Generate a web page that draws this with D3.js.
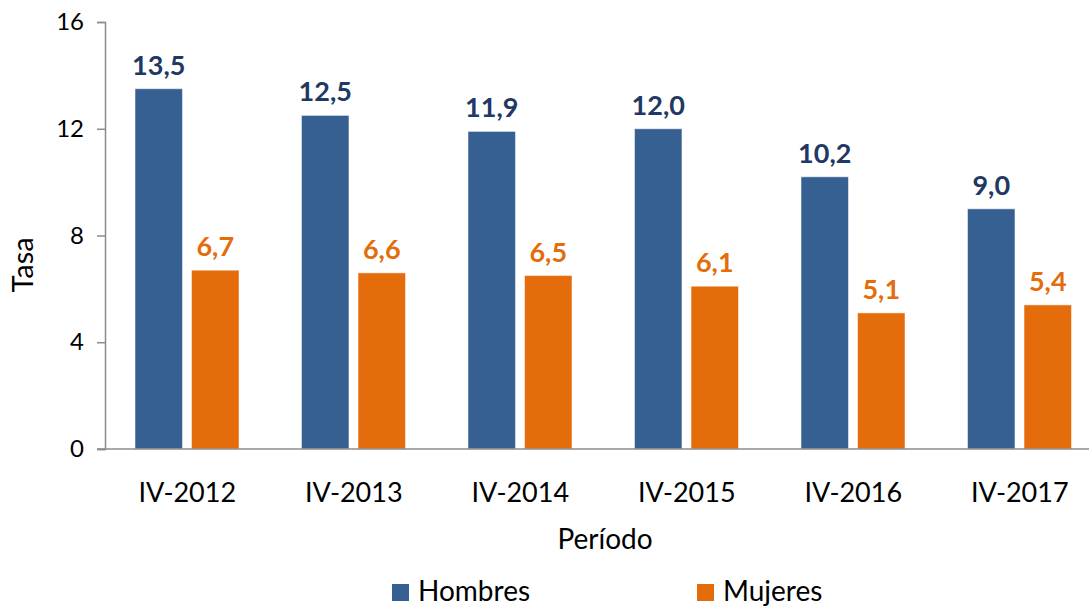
<!DOCTYPE html>
<html>
<head>
<meta charset="utf-8">
<script src="https://cdn.jsdelivr.net/npm/d3@7"></script>
<style>
  body { margin: 0; background: #fff; }
  svg { display: block; font-family: Lato, "Open Sans", sans-serif; }
</style>
</head>
<body>
<div id="chart"></div>
<script>
// data
var periods = ["IV-2012", "IV-2013", "IV-2014", "IV-2015", "IV-2016", "IV-2017"]
var hombres = [13.5, 12.5, 11.9, 12.0, 10.2, 9.0]
var mujeres = [6.7, 6.6, 6.5, 6.1, 5.1, 5.4]
var series = ["Hombres", "Mujeres"]
var yTicks = [0, 4, 8, 12, 16]

var width = 1089, height = 607
var colors = { Hombres: "#376092", Mujeres: "#E46C0A" }
var labelColors = { Hombres: "#1F3864", Mujeres: "#E46C0A" }

var svg = d3.select("#chart").append("svg")
    .attr("width", width)
    .attr("height", height)

// plot area runs a bit past the right edge, like in the original
var x0 = d3.scaleBand().domain(periods).range([104, 1103])
var x1 = d3.scaleBand().domain(series).range([31, 135]).paddingInner(0.16)
var y = d3.scaleLinear().domain([0, 16]).range([449, 22])

var rows = periods.map(function(p, i) {
  return { period: p, values: [
    { key: "Hombres", value: hombres[i] },
    { key: "Mujeres", value: mujeres[i] }
  ]}
})

var groups = svg.append("g").selectAll("g")
  .data(rows)
  .enter().append("g")
    .attr("transform", function(d) { return "translate(" + x0(d.period) + ",0)" })

groups.selectAll("rect")
  .data(function(d) { return d.values })
  .enter().append("rect")
    .attr("x", function(d) { return x1(d.key) })
    .attr("width", x1.bandwidth())
    .attr("y", function(d) { return y(d.value) })
    .attr("height", function(d) { return y(0) - y(d.value) })
    .attr("fill", function(d) { return colors[d.key] })
    .attr("stroke", "#ffffff")
    .attr("stroke-opacity", 0.5)
    .attr("stroke-width", 1)

groups.selectAll("text")
  .data(function(d) { return d.values })
  .enter().append("text")
    .attr("x", function(d) { return x1(d.key) + x1.bandwidth() / 2 })
    .attr("y", function(d) { return y(d.value) - 14 })
    .attr("text-anchor", "middle")
    .attr("font-size", 27)
    .attr("font-weight", "bold")
    .attr("fill", function(d) { return labelColors[d.key] })
    .text(function(d) { return d.value.toFixed(1).replace(".", ",") })

// y axis
var yAxis = svg.append("g")
    .attr("transform", "translate(105,0)")
    .call(d3.axisLeft(y).tickValues(yTicks).tickSize(8).tickPadding(13))
yAxis.select(".domain").attr("stroke", "#8c8c8c").attr("stroke-width", 1.5)
yAxis.selectAll(".tick line").attr("stroke", "#8c8c8c").attr("stroke-width", 1.5)
yAxis.selectAll("text").attr("font-size", 24).attr("fill", "#000").attr("font-family", "Lato")

// x axis line
svg.append("line")
    .attr("x1", 97).attr("x2", width)
    .attr("y1", y(0)).attr("y2", y(0))
    .attr("stroke", "#8c8c8c").attr("stroke-width", 1.5)

// category labels
svg.append("g").selectAll("text")
  .data(periods)
  .enter().append("text")
    .attr("x", function(d) { return x0(d) + x0.bandwidth() / 2 })
    .attr("y", 502)
    .attr("text-anchor", "middle")
    .attr("font-size", 27)
    .attr("fill", "#000")
    .text(function(d) { return d })

svg.append("text")
    .attr("x", 605).attr("y", 549)
    .attr("text-anchor", "middle")
    .attr("font-size", 28)
    .text("Período")

svg.append("text")
    .attr("transform", "translate(33,265)rotate(-90)")
    .attr("text-anchor", "middle")
    .attr("font-size", 29)
    .text("Tasa")

// legend
var legendX = [392, 697]
var legend = svg.append("g").selectAll("g")
  .data(series)
  .enter().append("g")
    .attr("transform", function(d, i) { return "translate(" + legendX[i] + ",584)" })

legend.append("rect")
    .attr("width", 17).attr("height", 17)
    .attr("fill", function(d) { return colors[d] })

legend.append("text")
    .attr("x", 26).attr("y", 17)
    .attr("font-size", 28)
    .text(function(d) { return d })
</script>
</body>
</html>
